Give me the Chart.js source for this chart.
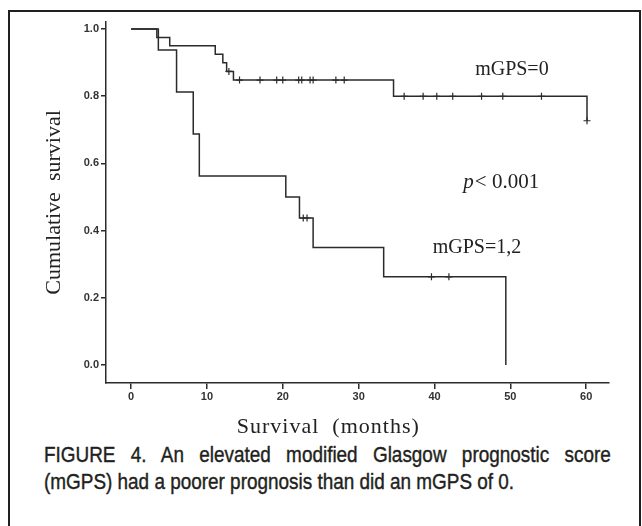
<!DOCTYPE html>
<html lang="en">
<head>
<meta charset="UTF-8">
<title>Survival by mGPS</title>
<script src="https://cdn.jsdelivr.net/npm/chart.js"></script>
<style>
  html, body { margin: 0; padding: 0; background: #fff; }
  body { width: 642px; height: 526px; position: relative; overflow: hidden; }
  #frame { position: absolute; left: 8px; top: 10px; width: 629px; height: 600px;
           border: 2px solid #231f20; border-bottom: none; }
  #survChart { position: absolute; left: 0; top: 0; }
  #caption { position: absolute; left: 44px; top: 441px; width: 659px;
             transform: scaleX(0.86); transform-origin: 0 0;
             font-family: "Liberation Sans", Arial, sans-serif;
             font-size: 22px; line-height: 27px; color: #231f20;
             -webkit-text-stroke: 0.4px #231f20; }
  #caption .l1 { text-align: justify; text-align-last: justify; }
</style>
</head>
<body>
<div id="frame"></div>
<canvas id="survChart" width="642" height="440"></canvas>
<div id="caption"><div class="l1">FIGURE 4. An elevated modified Glasgow prognostic score</div><div>(mGPS) had a poorer prognosis than did an mGPS of 0.</div></div>
<script>
// Kaplan-Meier steps, mGPS=0
var upperMonths   = [0, 3.4, 5.1, 11.1, 12.1, 12.6, 13.5, 34.6, 60.1];
var upperSurvival = [1.0, 0.975, 0.95, 0.925, 0.9, 0.874, 0.848, 0.80, 0.727];
var upperCensorMonths   = [12.9, 14.3, 17.0, 19.2, 20.0, 22.1, 22.5, 23.6, 24.0, 27.0, 28.1,
                           36.0, 38.5, 40.3, 42.4, 46.2, 49.0, 54.1, 60.1];
var upperCensorSurvival = [0.874, 0.848, 0.848, 0.848, 0.848, 0.848, 0.848, 0.848, 0.848, 0.848, 0.848,
                           0.80, 0.80, 0.80, 0.80, 0.80, 0.80, 0.80, 0.727];

// Kaplan-Meier steps, mGPS=1,2
var lowerMonths   = [0, 3.6, 6.0, 8.2, 9.0, 20.4, 22.2, 24.0, 33.3, 49.4];
var lowerSurvival = [1.0, 0.9375, 0.8125, 0.6875, 0.5625, 0.5, 0.4375, 0.35, 0.2625, 0.0];
var lowerCensorMonths   = [22.7, 23.2, 39.6, 41.9];
var lowerCensorSurvival = [0.4375, 0.4375, 0.2625, 0.2625];

var xTicks = [0, 10, 20, 30, 40, 50, 60];
var yTicks = [0.0, 0.2, 0.4, 0.6, 0.8, 1.0];

function pairs(xs, ys) {
    return xs.map(function (x, i) { return { x: x, y: ys[i] }; });
}

var ink = '#2b2b2b';
var serif = '"Liberation Serif", "DejaVu Serif", serif';
var tickFont = { family: '"Liberation Sans", Arial, sans-serif', size: 11, weight: 'bold' };

// text written inside the plot, anchored in data units
var curveLabels = [
    { text: 'mGPS=0',   month: 50.2, surv: 0.878 },
    { text: 'mGPS=1,2', month: 45.6, surv: 0.348 }
];
var pLabel = { month: 43.8, surv: 0.542 };
var xTitle = { text: 'Survival  (months)', month: 26 };

var labelPlugin = {
    id: 'curveLabels',
    afterDatasetsDraw: function (chart) {
        var ctx = chart.ctx, xs = chart.scales.x, ys = chart.scales.y;
        ctx.save();
        ctx.fillStyle = '#222';
        ctx.textBaseline = 'middle';
        ctx.textAlign = 'center';
        ctx.font = '20px ' + serif;
        curveLabels.forEach(function (l) {
            ctx.fillText(l.text, xs.getPixelForValue(l.month), ys.getPixelForValue(l.surv));
        });
        var px = xs.getPixelForValue(pLabel.month), py = ys.getPixelForValue(pLabel.surv);
        ctx.textAlign = 'left';
        ctx.font = 'italic 21px ' + serif;
        ctx.fillText('p', px, py);
        var w = ctx.measureText('p').width;
        ctx.font = '21px ' + serif;
        ctx.fillText('< 0.001', px + w + 1, py);

        // x axis title, below the tick labels
        ctx.textAlign = 'center';
        ctx.font = '22px ' + serif;
        ctx.letterSpacing = '1px';
        ctx.fillText(xTitle.text, xs.getPixelForValue(xTitle.month), xs.bottom - 13);
        ctx.restore();
    }
};

var stepStyle = { stepped: true, borderColor: ink, borderWidth: 1.5, pointRadius: 0, fill: false };
var censorStyle = { showLine: false, pointStyle: 'cross', pointRadius: 3.5, borderColor: ink,
                    pointBorderWidth: 1.2, backgroundColor: ink };

var ctx = document.getElementById('survChart').getContext('2d');
var survChart = new Chart(ctx, {
    type: 'line',
    data: {
        datasets: [
            Object.assign({ label: 'mGPS=0', data: pairs(upperMonths, upperSurvival) }, stepStyle),
            Object.assign({ label: 'mGPS=1,2', data: pairs(lowerMonths, lowerSurvival) }, stepStyle),
            Object.assign({ label: 'censored 0', data: pairs(upperCensorMonths, upperCensorSurvival) }, censorStyle),
            Object.assign({ label: 'censored 1,2', data: pairs(lowerCensorMonths, lowerCensorSurvival) }, censorStyle)
        ]
    },
    options: {
        responsive: false,
        animation: false,
        devicePixelRatio: 1,
        layout: { padding: { left: 0, top: 22, right: 33, bottom: 0 } },
        plugins: { legend: { display: false }, tooltip: { enabled: false } },
        scales: {
            x: {
                type: 'linear',
                min: -3.3,
                max: 63,
                afterBuildTicks: function (s) { s.ticks = xTicks.map(function (v) { return { value: v }; }); },
                afterFit: function (s) { s.height = 57; },
                ticks: { color: '#333', padding: 1, maxRotation: 0, font: tickFont },
                grid: { drawOnChartArea: false, tickLength: 6, color: ink, lineWidth: 1.5 },
                border: { color: ink, width: 1.5 }
            },
            y: {
                type: 'linear',
                min: -0.0536,
                max: 1.021,
                afterBuildTicks: function (s) { s.ticks = yTicks.map(function (v) { return { value: v }; }); },
                afterFit: function (s) { s.width = 106; },
                ticks: { color: '#333', padding: 2, font: tickFont,
                         callback: function (v) { return Number(v).toFixed(1); } },
                grid: { drawOnChartArea: false, tickLength: 5, color: ink, lineWidth: 1.5 },
                border: { color: ink, width: 1.5 },
                title: { display: true, text: 'Cumulative  survival', color: '#222',
                         font: { family: serif, size: 22 }, padding: { top: 41, bottom: 0 } }
            }
        }
    },
    plugins: [labelPlugin]
});
</script>
</body>
</html>
